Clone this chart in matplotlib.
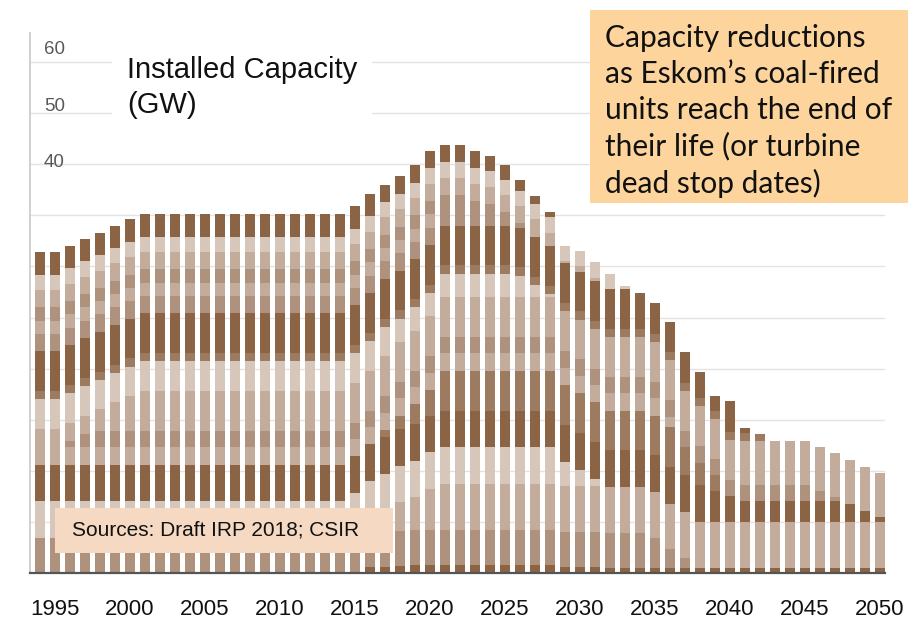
import matplotlib.pyplot as plt
import numpy as np
from matplotlib.patches import Rectangle

# years shown as bars
years = list(range(1994, 2051))
tick_years = list(range(1995, 2051, 5))

# stacked unit groups (GW), bottom to top, one value per year
g01 = [0, 0, 0, 0, 0, 0, 0, 0, 0, 0,
       0, 0, 0, 0, 0, 0, 0, 0, 0, 0,
       0, 0, .6, .6, .7, .8, .8, .8, .8, .8,
       .8, .8, .8, .8, .8, .6, .6, .6, .5, .5,
       .5, .5, .5, .5, .5, .5, .5, .5, .5, .5,
       .5, .5, .5, .5, .5, .5, .5]
g02 = [3.4, 3.4, 3.4, 3.4, 3.4, 3.4, 3.4, 3.4, 3.4, 3.4,
       3.4, 3.4, 3.4, 3.4, 3.4, 3.4, 3.4, 3.4, 3.4, 3.4,
       3.4, 3.4, 3.4, 3.4, 3.4, 3.4, 3.4, 3.4, 3.4, 3.4,
       3.4, 3.4, 3.4, 3.4, 3.4, 3.4, 3.4, 3.4, 3.4, 3.4,
       3.4, 2.9, 1.8, 1.0, 0, 0, 0, 0, 0, 0,
       0, 0, 0, 0, 0, 0, 0]
g03 = [0, 0, 0, 0, 0, 0, 0, 0, 0, 0,
       0, 0, 0, 0, 0, 0, 0, 0, 0, 0,
       0, .8, 1.4, 2.1, 2.8, 3.2, 4.0, 4.5, 4.5, 4.5,
       4.5, 4.5, 4.5, 4.5, 4.5, 4.5, 4.5, 4.5, 4.5, 4.5,
       4.5, 4.5, 4.5, 4.5, 4.5, 4.5, 4.5, 4.5, 4.5, 4.5,
       4.5, 4.5, 4.5, 4.5, 4.5, 4.5, 4.5]
g04 = [3.6, 3.6, 3.6, 3.6, 3.6, 3.6, 3.6, 3.6, 3.6, 3.6,
       3.6, 3.6, 3.6, 3.6, 3.6, 3.6, 3.6, 3.6, 3.6, 3.6,
       3.6, 3.6, 3.6, 3.6, 3.6, 3.6, 3.6, 3.6, 3.6, 3.6,
       3.6, 3.6, 3.6, 3.6, 3.6, 2.4, 1.6, .7, 0, 0,
       0, 0, 0, 0, 0, 0, 0, 0, 0, 0,
       0, 0, 0, 0, 0, 0, 0]
g05 = [3.6, 3.6, 3.6, 3.6, 3.6, 3.6, 3.6, 3.6, 3.6, 3.6,
       3.6, 3.6, 3.6, 3.6, 3.6, 3.6, 3.6, 3.6, 3.6, 3.6,
       3.6, 3.6, 3.6, 3.6, 3.6, 3.6, 3.6, 3.6, 3.6, 3.6,
       3.6, 3.6, 3.6, 3.6, 3.6, 3.6, 3.6, 3.6, 3.6, 3.6,
       3.6, 3.6, 3.6, 3.6, 3.6, 3.0, 2.5, 2.0, 2.0, 2.0,
       2.0, 2.0, 2.0, 2.0, 1.8, 1.1, .5]
g06 = [0, 0, 0, 0, 0, 0, 0, 0, 0, 0,
       0, 0, 0, 0, 0, 0, 0, 0, 0, 0,
       0, 0, 0, .7, 1.3, 1.9, 2.5, 3.9, 3.9, 3.9,
       3.9, 3.9, 3.9, 3.9, 3.9, 3.9, 3.9, 3.9, 3.9, 3.9,
       3.9, 3.9, 3.9, 2.7, 2.2, 1.6, 0, 0, 0, 0,
       0, 0, 0, 0, 0, 0, 0]
g07 = [1.7, 1.7, 1.7, 1.7, 1.7, 1.7, 1.7, 1.7, 1.7, 1.7,
       1.7, 1.7, 1.7, 1.7, 1.7, 1.7, 1.7, 1.7, 1.7, 1.7,
       1.7, 1.7, 1.7, 1.7, 1.7, 1.7, 1.7, 1.7, 1.7, 1.7,
       1.7, 1.7, 1.7, 1.7, 1.7, 1.7, 1.7, 1.7, 1.7, 1.7,
       1.7, 1.7, 1.0, 0, 0, 0, 0, 0, 0, 0,
       0, 0, 0, 0, 0, 0, 0]
g08 = [0, 0, .6, 1.3, 1.6, 1.6, 1.6, 1.6, 1.6, 1.6,
       1.6, 1.6, 1.6, 1.6, 1.6, 1.6, 1.6, 1.6, 1.6, 1.6,
       1.6, 1.6, 1.6, 1.6, 1.6, 1.6, 1.6, 1.6, 1.6, 1.6,
       1.6, 1.6, 1.6, 1.6, 1.6, 1.6, 1.6, 1.6, 1.6, 1.6,
       1.6, 1.6, 1.6, 1.6, 1.6, 1.6, 1.6, 1.6, 1.6, 1.6,
       1.6, 1.6, 1.0, .4, 0, 0, 0]
g09 = [1.8, 1.8, 1.8, 1.8, 2.1, 2.8, 3.4, 3.9, 3.9, 3.9,
       3.9, 3.9, 3.9, 3.9, 3.9, 3.9, 3.9, 3.9, 3.9, 3.9,
       3.9, 3.9, 3.9, 3.9, 3.9, 3.9, 3.9, 3.9, 3.9, 3.9,
       3.9, 3.9, 3.9, 3.9, 3.9, 3.9, 3.9, 3.9, 3.9, 3.9,
       3.9, 3.9, 3.9, 3.9, 3.9, 3.9, 3.9, 4.3, 4.3, 4.3,
       4.3, 4.3, 4.3, 4.3, 4.3, 4.3, 4.3]
g10 = [2.9, 2.9, 2.9, 2.9, 2.9, 2.9, 2.9, 2.9, 2.9, 2.9,
       2.9, 2.9, 2.9, 2.9, 2.9, 2.9, 2.9, 2.9, 2.9, 2.9,
       2.9, 2.9, 2.9, 2.9, 2.3, 2.3, 2.3, 2.3, 2.3, 2.3,
       2.3, 2.3, 2.1, 1.2, .3, 0, 0, 0, 0, 0,
       0, 0, 0, 0, 0, 0, 0, 0, 0, 0,
       0, 0, 0, 0, 0, 0, 0]
g11 = [.8, .8, .8, .8, .8, .8, .8, .8, .8, .8,
       .8, .8, .8, .8, .8, .8, .8, .8, .8, .8,
       .8, .8, .8, .8, .8, .8, .8, .8, .8, .8,
       .8, .8, .8, .8, .8, .8, .8, .8, .8, .8,
       .8, .8, .8, .8, .8, .8, .8, .8, .7, 0,
       0, 0, 0, 0, 0, 0, 0]
g12 = [3.9, 3.9, 3.9, 3.9, 3.9, 3.9, 3.9, 3.9, 3.9, 3.9,
       3.9, 3.9, 3.9, 3.9, 3.9, 3.9, 3.9, 3.9, 3.9, 3.9,
       3.9, 3.9, 3.9, 3.9, 3.9, 3.9, 3.9, 3.9, 3.9, 3.9,
       3.9, 3.9, 3.9, 3.9, 3.9, 3.9, 3.9, 3.9, 3.9, 3.9,
       3.5, 3.0, 3.0, 3.0, 2.6, 1.4, 3.0, .5, 0, 0,
       0, 0, 0, 0, 0, 0, 0]
g13 = [1.7, 1.7, 1.7, 1.7, 1.7, 1.7, 1.7, 1.7, 1.7, 1.7,
       1.7, 1.7, 1.7, 1.7, 1.7, 1.7, 1.7, 1.7, 1.7, 1.7,
       1.7, 1.7, 1.7, 1.7, 1.7, 1.7, 1.7, 1.7, 1.7, 1.7,
       1.7, 1.3, .4, 0, 0, 0, 0, 0, 0, 0,
       0, 0, 0, 0, 0, 0, 0, 0, 0, 0,
       0, 0, 0, 0, 0, 0, 0]
g14 = [1.3, 1.3, 1.3, 1.3, 1.3, 1.3, 1.3, 1.3, 1.3, 1.3,
       1.3, 1.3, 1.3, 1.3, 1.3, 1.3, 1.3, 1.3, 1.3, 1.3,
       1.3, 1.3, 1.3, 1.3, 1.3, 1.3, 1.3, 0, 0, 0,
       0, 0, 0, 0, 0, 0, 0, 0, 0, 0,
       0, 0, 0, 0, 0, 0, 0, 0, 0, 0,
       0, 0, 0, 0, 0, 0, 0]
g15 = [1.3, 1.3, 1.3, 1.3, 1.3, 1.3, 1.3, 1.3, 1.3, 1.3,
       1.3, 1.3, 1.3, 1.3, 1.3, 1.3, 1.3, 1.3, 1.3, 1.3,
       1.3, 1.3, 1.3, 1.3, 1.3, 1.3, 1.3, 1.3, 1.3, .7,
       .4, 0, 0, 0, 0, 0, 0, 0, 0, 0,
       0, 0, 0, 0, 0, 0, 0, 0, 0, 0,
       0, 0, 0, 0, 0, 0, 0]
g16 = [1.7, 1.7, 1.7, 1.7, 1.7, 1.7, 1.7, 1.7, 1.7, 1.7,
       1.7, 1.7, 1.7, 1.7, 1.7, 1.7, 1.7, 1.7, 1.7, 1.7,
       1.7, 1.7, 1.7, 1.7, 1.7, 1.7, 1.7, 1.7, 1.7, 1.7,
       1.7, 1.7, 1.7, 1.7, 1.3, .2, .5, .3, 0, 0,
       0, 0, 0, 0, 0, 0, 0, 0, 0, 0,
       0, 0, 0, 0, 0, 0, 0]
g17 = [1.5, 1.5, 1.5, 1.5, 1.5, 1.5, 1.5, 1.5, 1.5, 1.5,
       1.5, 1.5, 1.5, 1.5, 1.5, 1.5, 1.5, 1.5, 1.5, 1.5,
       1.5, 1.5, 1.5, 1.5, 1.5, 1.5, 1.5, 1.5, 1.5, 1.5,
       1.5, 1.5, 1.5, 1.5, 1.5, 1.5, 1.5, 1.5, 1.5, .3,
       0, 0, 0, 0, 0, 0, 0, 0, 0, 0,
       0, 0, 0, 0, 0, 0, 0]
g18 = [2.2, 2.2, 2.2, 2.2, 2.2, 2.2, 2.2, 2.2, 2.2, 2.2,
       2.2, 2.2, 2.2, 2.2, 2.2, 2.2, 2.2, 2.2, 2.2, 2.2,
       2.2, 2.2, 2.2, 1.7, 1.7, 1.7, 1.7, 1.7, 1.7, 1.7,
       1.5, 1.4, 1.1, .8, .5, 0, 0, 0, 0, 0,
       0, 0, 0, 0, 0, 0, 0, 0, 0, 0,
       0, 0, 0, 0, 0, 0, 0]

# axis texts
y_labels = ['60', '50', '40']
y_label_pos = [51.2, 45.6, 40.2]

# brown shades
DK = '#8b6446'
MD = '#9d7b61'
MI = '#ae927d'
ML = '#c3ac9b'
LT = '#d7c6ba'

groups = [g01, g02, g03, g04, g05, g06, g07, g08, g09,
          g10, g11, g12, g13, g14, g15, g16, g17, g18]
colors = [DK, MI, ML, LT, DK, MD, ML, MI, ML,
          LT, MD, DK, MI, ML, MI, ML, LT, DK]

fig = plt.figure(figsize=(9.1, 6.22), dpi=100)
ax = fig.add_axes([30 / 910, 49 / 622, 855 / 910, 540 / 622])

bottom = np.zeros(len(years))
for vals, col in zip(groups, colors):
    vals = np.array(vals)
    ax.bar(years, vals, bottom=bottom, width=0.62, color=col,
           linewidth=0, zorder=2)
    bottom += vals

ax.set_xlim(1994 - 10 / 15, 1994 + 845 / 15)
ax.set_ylim(0, 52.84)

ax.set_yticks(np.arange(5, 51, 5))
ax.set_yticklabels([])
ax.yaxis.grid(True, color='#e3e3e3', linewidth=1, zorder=0)
ax.set_axisbelow(True)
ax.tick_params(axis='y', length=0)

ax.set_xticks(tick_years)
ax.set_xticklabels([str(y) for y in tick_years], fontsize=16,
                   family='Liberation Sans', color='#111111')
ax.tick_params(axis='x', length=0, pad=19)

for s in ['top', 'right']:
    ax.spines[s].set_visible(False)
ax.spines['left'].set_color('#c8c8c8')
ax.spines['left'].set_linewidth(1.2)
ax.spines['bottom'].set_color('#555555')
ax.spines['bottom'].set_linewidth(1.6)

for lab, yv in zip(y_labels, y_label_pos):
    ax.text(14 / 855, yv, lab, transform=ax.get_yaxis_transform(),
            fontsize=13.5, family='Liberation Sans', color='#595959',
            va='center', ha='left')

fig.text(127 / 910, 1 - 56 / 622, 'Installed Capacity\n(GW)',
         fontsize=21, family='Liberation Sans', color='#111111',
         va='top', ha='left', linespacing=1.3,
         bbox=dict(facecolor='white', edgecolor='none',
                   boxstyle='square,pad=0.5'))

# note box, top right
fig.patches.append(Rectangle((590 / 910, 1 - 203 / 622), 318 / 910, 193 / 622,
                             transform=fig.transFigure, facecolor='#fcd49c',
                             edgecolor='none', zorder=3))
fig.text(605 / 910, 1 - 24 / 622,
         'Capacity reductions\nas Eskom\u2019s coal-fired\nunits reach the end of\n'
         'their life (or turbine\ndead stop dates)',
         fontsize=21.5, family='Lato', color='#111111', va='top', ha='left',
         linespacing=1.34, zorder=4)

# sources box
fig.patches.append(Rectangle((55 / 910, 1 - 553 / 622), 338 / 910, 45 / 622,
                             transform=fig.transFigure, facecolor='#f6d9c3',
                             edgecolor='none', zorder=3))
fig.text(72 / 910, 1 - 530 / 622, 'Sources: Draft IRP 2018; CSIR',
         fontsize=15, family='Liberation Sans', color='#111111',
         va='center', ha='left', zorder=4)

fig.savefig('out.png', dpi=100)
